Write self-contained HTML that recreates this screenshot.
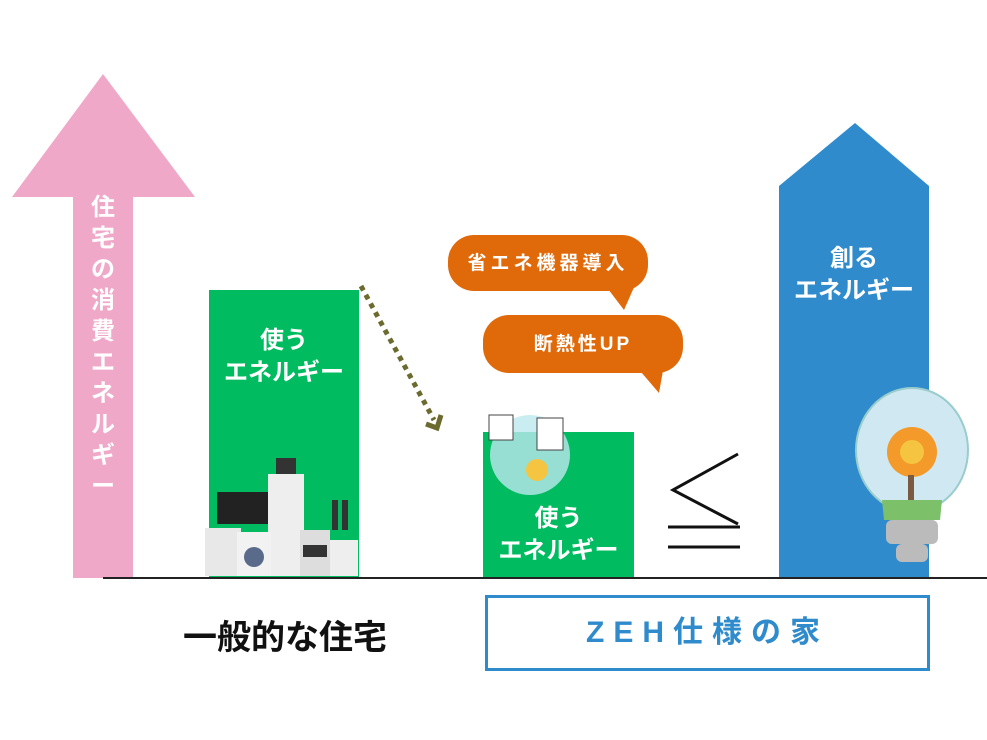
<!DOCTYPE html>
<html><head><meta charset="utf-8"><style>
body{margin:0;background:#fff;width:987px;height:740px;position:relative;overflow:hidden;font-family:"Liberation Sans","Noto Sans CJK JP",sans-serif}
.a{position:absolute}
.t{color:#fff;font-weight:bold;text-align:center}
</style></head><body>
<svg class="a" style="left:0;top:0" width="987" height="740">
<polygon points="103,74 195,197 133,197 133,578 73,578 73,197 12,197" fill="#f0a8c8"/>
<rect x="209" y="290" width="150" height="288" fill="#00bb60"/>
<rect x="483" y="432" width="151" height="146" fill="#00bb60"/>
<polygon points="855,123 929,186 929,578 779,578 779,186" fill="#2f8bcb"/>
<line x1="103" y1="578" x2="987" y2="578" stroke="#222" stroke-width="2"/>
<line x1="361" y1="286" x2="434" y2="420" stroke="#6b6b30" stroke-width="5" stroke-dasharray="5,5"/>
<polyline points="426,424 437,428 441,415" fill="none" stroke="#6b6b30" stroke-width="5"/>
<rect x="448" y="235" width="200" height="56" rx="26" fill="#e06a0a"/>
<polygon points="605,285 635,285 624,310" fill="#e06a0a"/>
<rect x="483" y="315" width="200" height="58" rx="26" fill="#e06a0a"/>
<polygon points="635,365 664,365 659,393" fill="#e06a0a"/>
<polyline points="738,454 673,490 738,524" fill="none" stroke="#111" stroke-width="3"/>
<line x1="668" y1="527" x2="740" y2="527" stroke="#111" stroke-width="3"/>
<line x1="668" y1="547" x2="740" y2="547" stroke="#111" stroke-width="3"/>
<rect x="205" y="528" width="36" height="48" fill="#e8e8e8"/>
<rect x="217" y="492" width="58" height="32" fill="#222"/>
<rect x="268" y="474" width="36" height="102" fill="#eee"/>
<rect x="276" y="458" width="20" height="16" fill="#333"/>
<rect x="237" y="532" width="34" height="44" fill="#f2f2f2"/>
<circle cx="254" cy="557" r="10" fill="#5a6a8a"/>
<rect x="300" y="530" width="30" height="46" fill="#ddd"/>
<rect x="303" y="545" width="24" height="12" fill="#333"/>
<rect x="330" y="540" width="28" height="36" fill="#eee"/>
<rect x="332" y="500" width="6" height="30" fill="#333"/>
<rect x="342" y="500" width="6" height="30" fill="#333"/>
<circle cx="530" cy="455" r="40" fill="#bde9ef" opacity="0.8"/>
<circle cx="537" cy="470" r="11" fill="#f5c542"/>
<rect x="489" y="415" width="24" height="25" fill="#fff" stroke="#444"/>
<rect x="537" y="418" width="26" height="32" fill="#fff" stroke="#444"/>
<ellipse cx="912" cy="450" rx="56" ry="62" fill="#cfe8f2" stroke="#9cc" stroke-width="2"/>
<circle cx="912" cy="452" r="25" fill="#f39a2a"/>
<circle cx="912" cy="452" r="12" fill="#f5c542"/>
<rect x="908" y="475" width="6" height="45" fill="#7a5a40"/>
<path d="M882 500 L942 500 L940 520 L884 520Z" fill="#7cc06a"/>
<rect x="886" y="520" width="52" height="24" rx="6" fill="#bbb"/>
<rect x="896" y="544" width="32" height="18" rx="6" fill="#bbb"/>
</svg>
<div class="a t" style="left:73px;top:192px;width:60px;font-size:24px;line-height:31px">住<br>宅<br>の<br>消<br>費<br>エ<br>ネ<br>ル<br>ギ<br>ー</div>
<div class="a t" style="left:209px;top:325px;width:150px;font-size:24px;line-height:32px">使う<br>エネルギー</div>
<div class="a t" style="left:483px;top:503px;width:151px;font-size:24px;line-height:32px">使う<br>エネルギー</div>
<div class="a t" style="left:779px;top:243px;width:150px;font-size:24px;line-height:32px">創る<br>エネルギー</div>
<div class="a t" style="left:448px;top:248px;width:200px;font-size:19px;letter-spacing:4px">省エネ機器導入</div>
<div class="a t" style="left:483px;top:329px;width:200px;font-size:19px;letter-spacing:3px">断熱性UP</div>
<div class="a" style="left:150px;top:610px;width:270px;text-align:center;font-size:34px;font-weight:bold;color:#111">一般的な住宅</div>
<div class="a" style="left:485px;top:595px;width:439px;height:70px;border:3px solid #2f8bcb;box-sizing:content-box;text-align:center;line-height:70px;font-size:30px;font-weight:bold;color:#2f8bcb;letter-spacing:9px">ZEH仕様の家</div>
</body></html>
